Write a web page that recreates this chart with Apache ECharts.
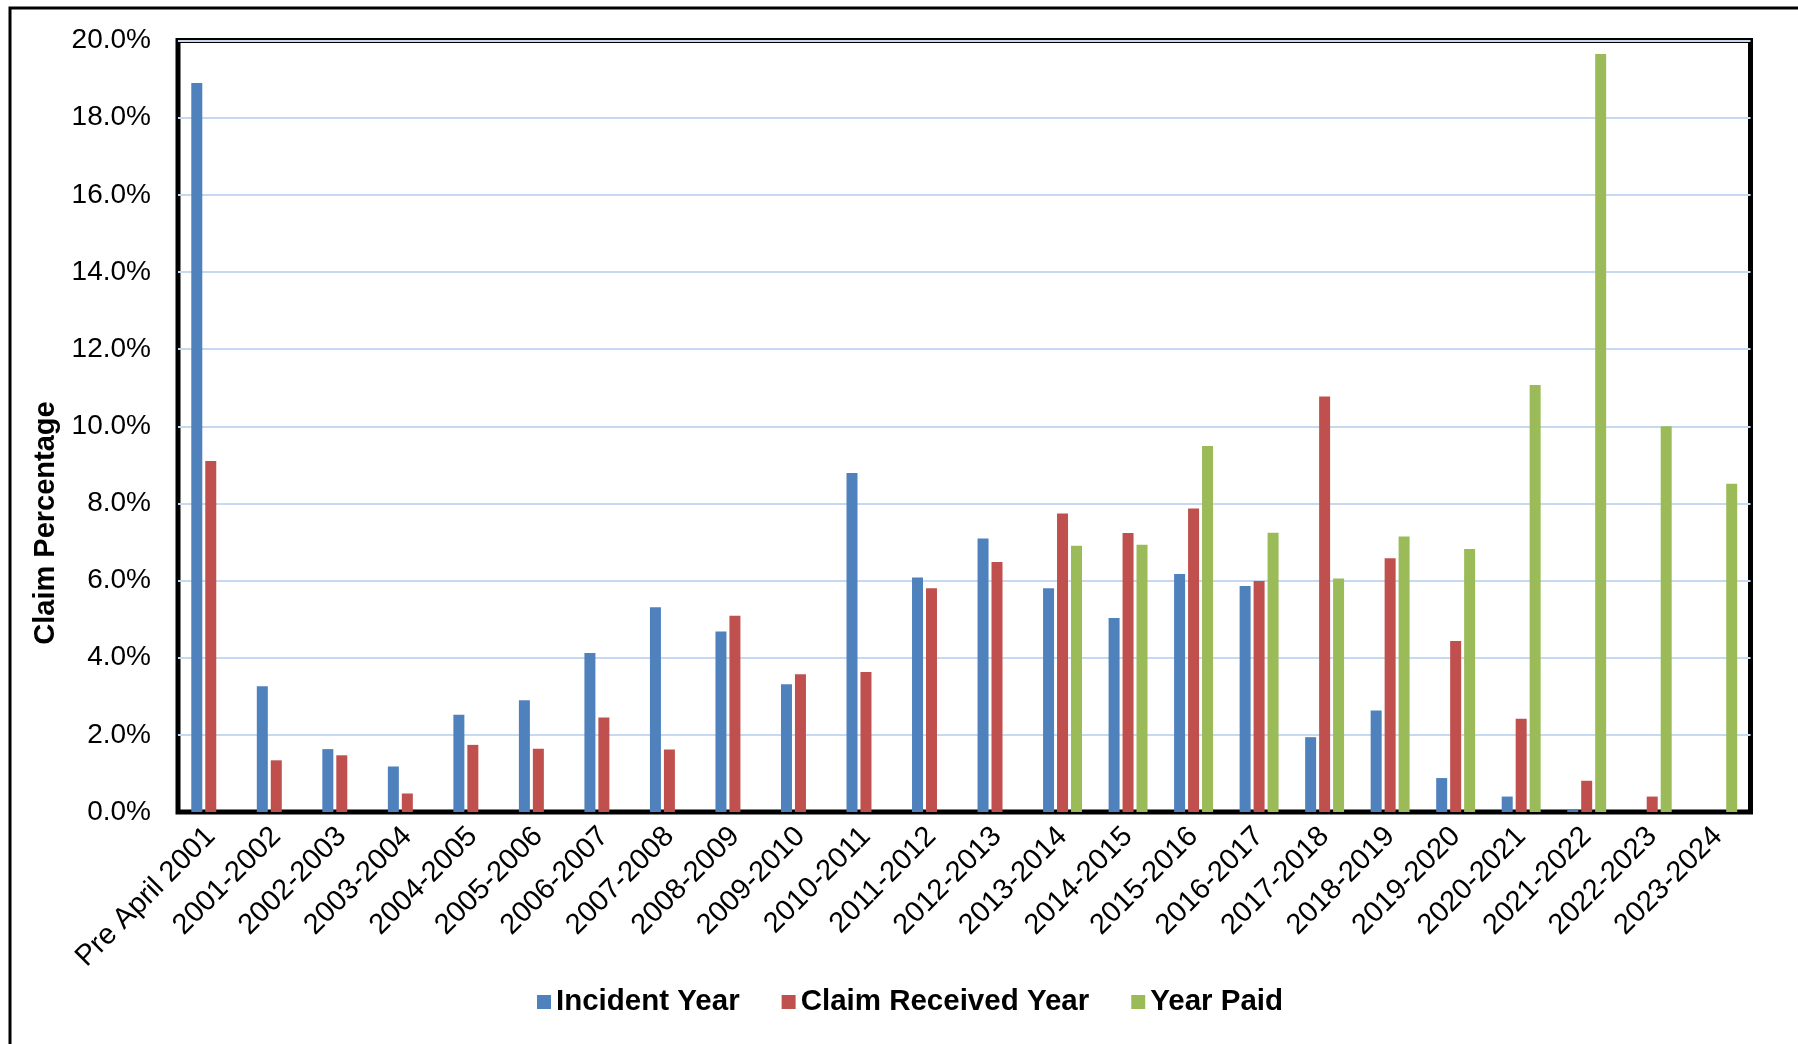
<!DOCTYPE html>
<html>
<head>
<meta charset="utf-8">
<title>Claim Percentage by Year</title>
<script src="https://cdn.jsdelivr.net/npm/echarts@6/dist/echarts.min.js"></script>
<style>
  html, body { margin: 0; padding: 0; background: #fff; }
  #chart { width: 1798px; height: 1044px; }
</style>
</head>
<body>
<div id="chart"></div>
<script>
// Financial years on the category axis
const categories = [
  'Pre April 2001', '2001-2002', '2002-2003', '2003-2004', '2004-2005',
  '2005-2006', '2006-2007', '2007-2008', '2008-2009', '2009-2010',
  '2010-2011', '2011-2012', '2012-2013', '2013-2014', '2014-2015',
  '2015-2016', '2016-2017', '2017-2018', '2018-2019', '2019-2020',
  '2020-2021', '2021-2022', '2022-2023', '2023-2024'
];

// Share of claims (%) per year, by the three ways of dating a claim
const incidentYear = [
  18.9, 3.26, 1.63, 1.18, 2.52, 2.9, 4.12, 5.31, 4.68, 3.31,
  8.79, 6.08, 7.09, 5.8, 5.03, 6.17, 5.86, 1.94, 2.63, 0.88,
  0.4, 0.05, null, null
];
const claimReceivedYear = [
  9.1, 1.34, 1.47, 0.48, 1.74, 1.64, 2.45, 1.62, 5.09, 3.57,
  3.63, 5.8, 6.48, 7.74, 7.23, 7.87, 5.99, 10.77, 6.58, 4.43,
  2.42, 0.81, 0.4, null
];
const yearPaid = [
  null, null, null, null, null, null, null, null, null, null,
  null, null, null, 6.9, 6.93, 9.49, 7.24, 6.05, 7.14, 6.82,
  11.07, 19.65, 10.0, 8.51
];

// Value axis ticks (%)
const yMin = 0, yMax = 20, yStep = 2;

const FONT = '"Liberation Sans", Arial, Helvetica, sans-serif';

const chart = echarts.init(document.getElementById('chart'), null, { renderer: 'canvas' });

function barSeries(name, data, color) {
  return {
    name: name,
    type: 'bar',
    data: data,
    barWidth: 11,
    barGap: '27%',
    itemStyle: { color: color },
    emphasis: { disabled: true }
  };
}

chart.setOption({
  backgroundColor: '#ffffff',
  animation: false,
  textStyle: { fontFamily: FONT },
  grid: {
    left: 178,
    right: 47.5,
    top: 40.5,
    bottom: 232,
    show: true,
    borderColor: '#000000',
    borderWidth: 5,
    backgroundColor: 'transparent',
    outerBoundsMode: 'none'
  },
  legend: {
    left: 532,
    top: 982,
    itemWidth: 14,
    itemHeight: 14,
    itemGap: 42,
    icon: 'rect',
    textStyle: { fontFamily: FONT, fontSize: 29.5, fontWeight: 'bold', color: '#000' },
    data: ['Incident Year', 'Claim Received Year', 'Year Paid']
  },
  xAxis: {
    type: 'category',
    data: categories,
    axisLine: { show: true, lineStyle: { color: '#000', width: 3 } },
    axisTick: { show: false },
    axisLabel: {
      rotate: 45,
      margin: 20,
      interval: 0,
      fontFamily: FONT,
      fontSize: 29,
      color: '#000'
    }
  },
  yAxis: {
    type: 'value',
    min: yMin,
    max: yMax,
    interval: yStep,
    axisLine: { show: false },
    axisTick: { show: false },
    splitLine: { show: true, lineStyle: { color: '#c6d9f1', width: 2 } },
    axisLabel: {
      margin: 27,
      fontFamily: FONT,
      fontSize: 28,
      color: '#000',
      formatter: function (v) { return v.toFixed(1) + '%'; }
    }
  },
  graphic: [
    {
      // outer frame of the chart area
      type: 'rect',
      shape: { x: 10, y: 8, width: 2400, height: 2400 },
      style: { fill: 'none', stroke: '#000', lineWidth: 3 },
      silent: true,
      z: 100
    },
    {
      type: 'text',
      x: 46,
      y: 523,
      rotation: Math.PI / 2,
      style: {
        text: 'Claim Percentage',
        font: 'bold 29px ' + FONT,
        fill: '#000',
        align: 'center',
        verticalAlign: 'middle'
      },
      silent: true
    }
  ],
  series: [
    barSeries('Incident Year', incidentYear, '#4f81bd'),
    barSeries('Claim Received Year', claimReceivedYear, '#c0504d'),
    barSeries('Year Paid', yearPaid, '#9bbb59')
  ]
});
</script>
</body>
</html>
